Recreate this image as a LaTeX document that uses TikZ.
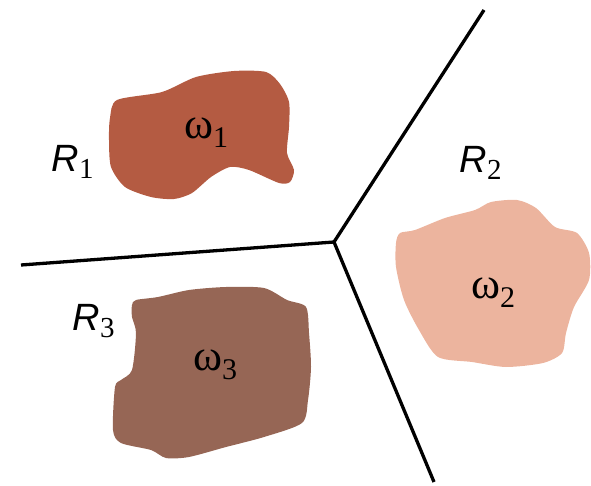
\documentclass[tikz,border=0pt]{standalone}
\usepackage{fontspec}
\newfontfamily\labsans{Liberation Sans}
\newfontfamily\labserif{Liberation Serif}
\definecolor{blobone}{RGB}{180,91,66}
\definecolor{blobtwo}{RGB}{236,180,158}
\definecolor{blobthree}{RGB}{150,102,85}
% region and class labels
\newcommand{\regname}[1]{{\fontsize{38}{38}\selectfont\labsans\itshape R}\kern0.5pt\raisebox{-7pt}{\fontsize{29}{29}\selectfont\labserif #1}}
\newcommand{\classname}[1]{{\fontsize{44}{44}\selectfont\labserif ω}\raisebox{-9pt}{\fontsize{30}{30}\selectfont\labserif #1}}

\begin{document}
\begin{tikzpicture}[
    x=1pt, y=-1pt,
    region/.style={draw=none, smooth cycle, tension=0.45},
    boundary/.style={line width=3.3pt, line join=miter},
    rlabel/.style={anchor=base west, inner sep=0pt},
]
\useasboundingbox (0,0) rectangle (591,486);

% class blobs
\fill[blobone] plot[region] coordinates {
    (117,100) (162,92) (196,77) (234,71) (266,72) (280,84) (289,102)
    (289,127) (287,153) (294,170) (290,182) (279,183) (249,170) (230,167)
    (211,177) (192,193) (174,199) (151,197) (125,187) (111,167) (109,140)
    (110,118)};
\fill[blobtwo] plot[region] coordinates {
    (400,233) (415,230) (445,218) (475,210) (491,202) (517,200) (536,208)
    (555,227) (577,233) (589,253) (589,280) (574,307) (566,333) (562,353)
    (543,363) (506,367) (472,362) (438,357) (419,330) (404,300) (396,267)
    (396,243)};
\fill[blobthree] plot[region] coordinates {
    (136,300) (158,297) (189,290) (226,287) (264,288) (287,300) (306,307)
    (309,333) (311,367) (308,400) (302,423) (264,437) (226,447) (189,457)
    (166,458) (151,450) (121,443) (113,430) (115,387) (121,380) (132,370)
    (136,333) (132,317) (132,305)};

% decision boundaries
\coordinate (junc) at (334,242);
\coordinate (topend) at (484,10);
\coordinate (leftend) at (21,265);
\coordinate (botend) at (434,482);
\draw[boundary] (leftend) -- (junc) -- (topend);
\draw[boundary] (junc) -- (botend);

% labels
\node[rlabel] (r1) at (51,172) {\regname{1}};
\node[rlabel] (r2) at (459,173) {\regname{2}};
\node[rlabel] (r3) at (72,330) {\regname{3}};
\node[rlabel] (w1) at (184,139) {\classname{1}};
\node[rlabel] (w2) at (471,298) {\classname{2}};
\node[rlabel] (w3) at (193,370) {\classname{3}};

\end{tikzpicture}
\end{document}
